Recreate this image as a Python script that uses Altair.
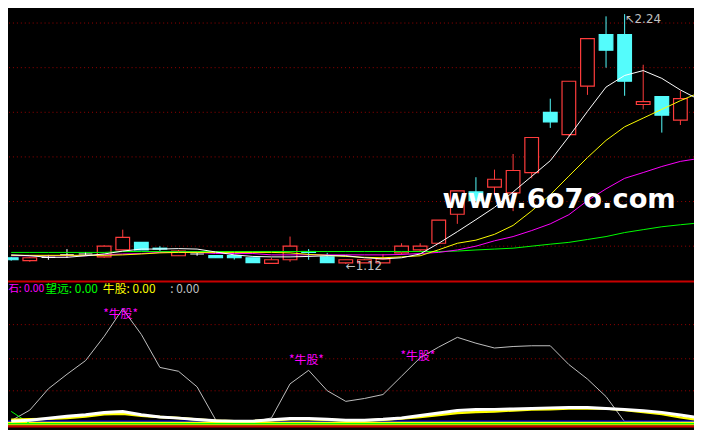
import altair as alt
import pandas as pd
import numpy as np

# ---------------- data ----------------
candle_idx = list(range(-1, 36))
opens = [1.148, 1.135, 1.150, 1.161, 1.165, 1.152, 1.183, 1.217, 1.191, 1.157, 1.165, 1.158, 1.158, 1.148, 1.123, 1.139, 1.176, 1.152, 1.125, 1.125,
         1.125, 1.170, 1.183, 1.213, 1.343, 1.443, 1.465, 1.439, 1.530, 1.800, 1.700, 1.917, 2.148, 2.148, 1.835, 1.870, 1.765]
highs = [1.152, 1.152, 1.161, 1.187, 1.174, 1.204, 1.274, 1.217, 1.200, 1.183, 1.170, 1.158, 1.161, 1.148, 1.148, 1.243, 1.187, 1.170, 1.139, 1.143,
         1.165, 1.213, 1.213, 1.317, 1.448, 1.509, 1.543, 1.613, 1.687, 1.861, 1.939, 2.130, 2.230, 2.240, 2.013, 1.870, 1.896]
lows = [1.135, 1.130, 1.139, 1.148, 1.157, 1.148, 1.183, 1.183, 1.178, 1.157, 1.157, 1.148, 1.140, 1.126, 1.123, 1.130, 1.139, 1.126, 1.120, 1.125,
        1.125, 1.161, 1.174, 1.209, 1.300, 1.404, 1.430, 1.357, 1.504, 1.730, 1.691, 1.878, 2.000, 1.874, 1.813, 1.709, 1.743]
closes = [1.139, 1.148, 1.150, 1.161, 1.165, 1.200, 1.239, 1.183, 1.187, 1.178, 1.165, 1.148, 1.148, 1.126, 1.139, 1.200, 1.172, 1.126, 1.139, 1.139,
          1.143, 1.200, 1.200, 1.317, 1.448, 1.404, 1.500, 1.539, 1.687, 1.757, 1.939, 2.130, 2.078, 1.939, 1.848, 1.787, 1.861]

ma_idx = list(range(-1, 37))
ma5 = [1.161, 1.157, 1.150, 1.150, 1.157, 1.165, 1.178, 1.187, 1.187, 1.189, 1.187, 1.174, 1.161, 1.154, 1.152, 1.152, 1.154, 1.157, 1.157,
       1.148, 1.143, 1.148, 1.165, 1.213, 1.265, 1.319, 1.374, 1.443, 1.513, 1.583, 1.691, 1.804, 1.913, 1.965, 1.987, 1.952, 1.900, 1.857]
ma10 = [1.159, 1.159, 1.159, 1.159, 1.159, 1.159, 1.161, 1.165, 1.170, 1.172, 1.172, 1.172, 1.172, 1.172, 1.172, 1.170, 1.163, 1.159, 1.154,
        1.150, 1.148, 1.152, 1.157, 1.184, 1.213, 1.227, 1.253, 1.293, 1.358, 1.430, 1.514, 1.597, 1.674, 1.735, 1.774, 1.813, 1.852, 1.887]
ma20 = [1.157, 1.157, 1.157, 1.157, 1.157, 1.161, 1.165, 1.167, 1.172, 1.172, 1.172, 1.167, 1.167, 1.167, 1.161, 1.161, 1.161, 1.161, 1.161,
        1.161, 1.161, 1.163, 1.167, 1.172, 1.183, 1.200, 1.224, 1.243, 1.270, 1.300, 1.341, 1.404, 1.457, 1.504, 1.530, 1.557, 1.580, 1.593]
ma60 = [1.172, 1.172, 1.172, 1.172, 1.172, 1.172, 1.176, 1.176, 1.176, 1.176, 1.176, 1.176, 1.176, 1.176, 1.176, 1.176, 1.176, 1.176, 1.176,
        1.176, 1.176, 1.176, 1.176, 1.176, 1.178, 1.183, 1.187, 1.191, 1.200, 1.209, 1.217, 1.230, 1.243, 1.261, 1.274, 1.287, 1.296, 1.304]
top_grid = [1.2, 1.4, 1.6, 1.8, 2.0, 2.2]

sub_idx = list(range(-1, 37))
trend = [1, 10.9, 30.9, 44.5, 57.3, 80, 105.7, 81.8, 50.9, 47.3, 32.7, 1.8, 0, 0, 3.6, 35.5, 48.2, 29.1, 19.1, 21.8, 25.5, 42.7, 60, 70, 79.1,
         73.6, 69.1, 70.5, 71.2, 71.2, 53.6, 40, 23.6, 0, 0, 0, 0, 0]
band_white = [0.6, 1.4, 3.2, 5.2, 6.6, 8.6, 9.5, 6.6, 4.5, 3.4, 2.1, 0.9, 0.6, 0.6, 1.8, 3.0, 3.0, 2.3, 1.5, 1.4, 2.3, 3.6, 5.9, 8.2, 10.6,
              11.4, 11.6, 12, 12.5, 13, 13.4, 13.4, 12.5, 11.5, 10.3, 8.8, 6.4, 3.6]
band_yellow = [1.8, 2.3, 2.7, 3.4, 5, 7, 7.5, 5.7, 4.5, 3.6, 2.1, 0.9, 0.6, 0.6, 1.4, 2.3, 2.3, 1.8, 1.2, 1.2, 1.8, 3, 4.5, 6.4, 8.2,
               9.1, 9.7, 10.6, 11.4, 11.8, 12.3, 12.7, 12.3, 10.9, 9.1, 7.3, 4.1, 1.8]
green_tail_idx = [-1, 0]
green_tail = [9.7, -1.8]
base_levels = [0.5, -0.6, -1.8, -3.0]
base_colors = ["#0000ff", "#ffff00", "#00ff00", "#ffff00"]
sub_grid = [29, 59, 91]
niu_idx = [4, 14, 20]
niu_val = [100.9, 57.7, 61.8]
niu_text = "*牛股*"
legend_names = ["石", "望远", "牛股", ""]
legend_vals = [0.00, 0.00, 0.00, 0.00]
legend_colors = ["#ff00ff", "#00ff00", "#ffff00", "#c0c0c0"]
watermark = "www.6o7o.com"

# ---------------- layout ----------------
W, H = 694, 422
sx, sy = W / 702, H / 430
RED, CYAN = "#ff3c3c", "#54fcfc"
GRID = "#9a0000"

xsc = alt.Scale(domain=[-0.907, 35.466], range=[0, W], nice=False, zero=False)
top_sc = alt.Scale(domain=[1.0435, 2.2565], range=[279 * sy, 0], nice=False, zero=False)
bot_sc = alt.Scale(domain=[-5.45, 131.8], range=[430 * sy, 279 * sy], nice=False, zero=False)
X = alt.X("i:Q", scale=xsc, axis=None)

cdf = pd.DataFrame(dict(i=candle_idx, o=opens, h=highs, l=lows, c=closes))
cdf["stroke"] = np.where(cdf.c > cdf.o, RED, np.where(cdf.c < cdf.o, CYAN, "#ffffff"))
cdf["fill"] = np.where(cdf.c > cdf.o, "#000000", np.where(cdf.c < cdf.o, CYAN, "#ffffff"))

layers = []
layers.append(alt.Chart(pd.DataFrame({"p": top_grid})).mark_rule(color=GRID, strokeDash=[1, 3], strokeWidth=1)
              .encode(y=alt.Y("p:Q", scale=top_sc, axis=None)))
layers.append(alt.Chart(pd.DataFrame({"v": sub_grid})).mark_rule(color=GRID, strokeDash=[1, 3], strokeWidth=1)
              .encode(y=alt.Y("v:Q", scale=bot_sc, axis=None)))

layers.append(alt.Chart(cdf).mark_rule(strokeWidth=1).encode(
    x=X, y=alt.Y("l:Q", scale=top_sc, axis=None), y2="h:Q", color=alt.Color("stroke:N", scale=None)))
layers.append(alt.Chart(cdf).mark_bar(size=14 * sx, strokeWidth=1.2).encode(
    x=X, y=alt.Y("o:Q", scale=top_sc, axis=None), y2="c:Q",
    fill=alt.Fill("fill:N", scale=None), stroke=alt.Stroke("stroke:N", scale=None)))

for vals, col in [(ma60, "#00ff00"), (ma20, "#ff00ff"), (ma10, "#ffff00"), (ma5, "#ffffff")]:
    layers.append(alt.Chart(pd.DataFrame({"i": ma_idx, "p": vals})).mark_line(color=col, strokeWidth=1, clip=True)
                  .encode(x=X, y=alt.Y("p:Q", scale=top_sc, axis=None)))

layers.append(alt.Chart(pd.DataFrame({"t": [watermark]})).mark_text(
    font="DejaVu Sans", fontWeight="bold", fontSize=27.6, color="#ffffff", align="center", baseline="alphabetic")
    .encode(text="t:N", x=alt.value(564 * sx), y=alt.value(203.5 * sy)))

imax = int(np.argmax(highs)); imin = int(np.argmin(lows))
ext = pd.DataFrame({"i": [candle_idx[imax]], "p": [highs[imax]], "t": ["↖" + f"{highs[imax]:.2f}"]})
layers.append(alt.Chart(ext).mark_text(font="DejaVu Sans", fontSize=12, color="#c0c0c0", align="left", baseline="middle", dy=5)
              .encode(x=X, y=alt.Y("p:Q", scale=top_sc, axis=None), text="t:N"))
ext2 = pd.DataFrame({"i": [candle_idx[imin]], "p": [lows[imin]], "t": ["←" + f"{lows[imin]:.2f}"]})
layers.append(alt.Chart(ext2).mark_text(font="DejaVu Sans", fontSize=12, color="#c0c0c0", align="left", baseline="middle", dy=2)
              .encode(x=X, y=alt.Y("p:Q", scale=top_sc, axis=None), text="t:N"))

# ---- sub panel ----
layers.append(alt.Chart(pd.DataFrame({"i": sub_idx, "v": trend})).mark_line(color="#c0c0c0", strokeWidth=1, clip=True)
              .encode(x=X, y=alt.Y("v:Q", scale=bot_sc, axis=None)))
bl = pd.DataFrame({"v": base_levels, "col": base_colors})
layers.append(alt.Chart(bl).mark_rule(strokeWidth=1.3).encode(
    y=alt.Y("v:Q", scale=bot_sc, axis=None), color=alt.Color("col:N", scale=None)))
layers.append(alt.Chart(pd.DataFrame({"i": green_tail_idx, "v": green_tail})).mark_line(color="#00ff00", strokeWidth=1, clip=True)
              .encode(x=X, y=alt.Y("v:Q", scale=bot_sc, axis=None)))
layers.append(alt.Chart(pd.DataFrame({"i": sub_idx, "v": band_yellow})).mark_line(color="#ffff00", strokeWidth=2.5, clip=True)
              .encode(x=X, y=alt.Y("v:Q", scale=bot_sc, axis=None)))
layers.append(alt.Chart(pd.DataFrame({"i": sub_idx, "v": band_white})).mark_line(color="#ffffff", strokeWidth=3, clip=True)
              .encode(x=X, y=alt.Y("v:Q", scale=bot_sc, axis=None)))

layers.append(alt.Chart(pd.DataFrame({"i": niu_idx, "v": niu_val, "t": [niu_text] * len(niu_idx)})).mark_text(
    font="Noto Sans CJK SC", fontSize=12, color="#ff00ff", align="left", baseline="middle", dx=-1)
    .encode(x=X, y=alt.Y("v:Q", scale=bot_sc, axis=None), text="t:N"))

sep = pd.DataFrame({"v": [131.5, -4.4]})
layers.append(alt.Chart(sep).mark_rule(color="#c80000", strokeWidth=2).encode(y=alt.Y("v:Q", scale=bot_sc, axis=None)))

leg_pos = [(0.5, "left", 10.5), (38, "left", 12), (97, "left", 12), (166, "left", 12)]
for (px, al, fs), nm, val, col in zip(leg_pos, legend_names, legend_vals, legend_colors):
    layers.append(alt.Chart(pd.DataFrame({"t": [f"{nm}: {val:.2f}"]})).mark_text(
        font="Noto Sans CJK SC", fontSize=fs, color=col, align=al, baseline="middle")
        .encode(text="t:N", x=alt.value(px * sx), y=alt.value(287 * sy)))

chart = alt.layer(*layers).resolve_scale(y="independent").properties(
    width=W, height=H, padding=0, background="#000000",
    autosize=alt.AutoSizeParams(type="none")
).configure_view(stroke=None)

chart.save("out.html", embed_options={"renderer": "svg", "actions": False})
